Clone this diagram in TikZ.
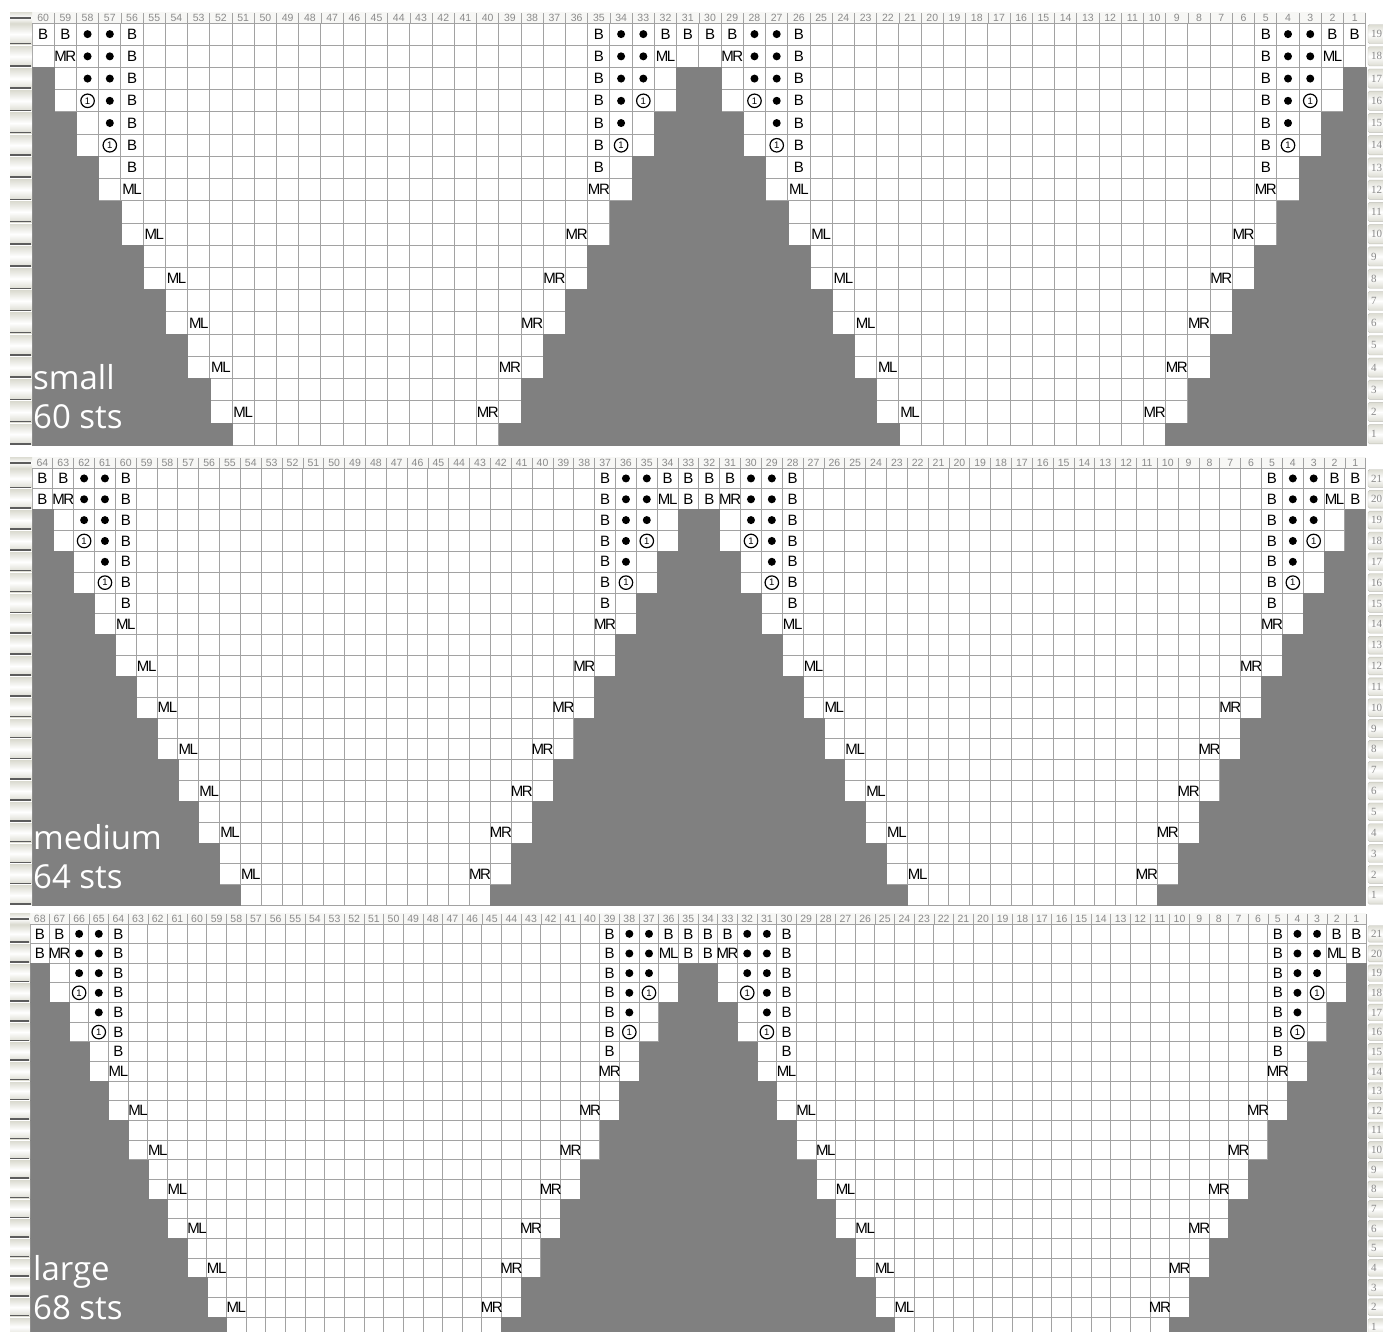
\documentclass[tikz,border=0pt]{standalone}
\usepackage{fontspec}
\setmainfont{Liberation Sans}
\newfontfamily\sizefont{Open Sans}
\newfontfamily\rowfont{Liberation Serif}
\usetikzlibrary{calc}

\definecolor{chartgrey}{HTML}{808080}
\definecolor{gridgrey}{HTML}{A2A2A2}
\definecolor{numgrey}{HTML}{8A8A8A}
\definecolor{tabedge}{HTML}{DCDCD2}
\definecolor{tabline}{HTML}{5C5C5C}
\definecolor{headbg}{HTML}{F7F7F5}

% increase symbols, letters set tight
\newcommand\incML{M\kern-1.4pt L}
\newcommand\incMR{M\kern-1.4pt R}

\tikzset{
  gridline/.style={draw=gridgrey,line width=1pt},
  headsep/.style={draw=gridgrey,line width=0.8pt},
  greycell/.style={fill=chartgrey,draw=chartgrey,line width=0.6pt},
  stsym/.style={inner sep=0pt,font=\fontsize{15}{15}\selectfont},
  bobble/.style={circle,fill=black,inner sep=0pt,minimum size=8pt},
  ringone/.style={circle,draw=black,line width=1.2pt,inner sep=0pt,minimum size=13.5pt,font=\fontsize{9.5}{9.5}\selectfont},
  colnum/.style={inner sep=0pt,text=numgrey,font=\fontsize{10.5}{10.5}\selectfont},
  rownum/.style={inner sep=0pt,text=numgrey,font=\rowfont\fontsize{11}{11}\selectfont},
  sizelabel/.style={inner sep=0pt,text=white,font=\sizefont\fontsize{33}{33}\selectfont},
  tabface/.style={top color=tabedge,bottom color=tabedge,middle color=white},
  % cell centre: row #1 from the top, offset #2 from the current edge
  cell/.style 2 args={at={({\xo+(\pp+(\dir)*(#2)+0.5)*\cw},{\yo+(#1+0.5)*\cw})}}
}

\begin{document}
\begin{tikzpicture}[x=1pt,y=-1pt]
\useasboundingbox (0,0) rectangle (1383,1331);
% three sizes: grid left, grid top, cell, half width, rows, name, stitches
\foreach \xo/\yo/\cw/\hw/\nr/\nm/\st in {32/23/22.23/30/19/small/60,32/468/20.84/32/21/medium/64,30/924/19.65/34/21/large/68}{
  \pgfmathtruncatemacro\nc{2*\hw}
  \pgfmathtruncatemacro\nrm{\nr-1}
  \pgfmathtruncatemacro\tl{\nr-2}
  \pgfmathsetmacro\yb{\yo+\nr*\cw}
  \pgfmathsetmacro\xr{\xo+\nc*\cw}
  % column numbers
  \fill[headbg] (\xo,\yo-11) rectangle (\xr,\yo);
  \foreach \i in {1,...,\nc}{
    \pgfmathtruncatemacro\cn{\nc+1-\i}
    \node[colnum] (col-\nm-\cn) at ({\xo+(\i-0.5)*\cw},\yo-5) {\cn};
    \draw[headsep] ({\xo+\i*\cw},\yo-10) -- ({\xo+\i*\cw},\yo);
  }
  \shade[tabface] (10,\yo-11) rectangle (\xo,\yo);
  \draw[tabline,line width=1.2pt] (10,\yo-5) -- (\xo-1,\yo-5);
  % grid
  \foreach \i in {0,...,\nc} \draw[gridline] ({\xo+\i*\cw},\yo) -- ({\xo+\i*\cw},\yb);
  \foreach \i in {0,...,\nr} \draw[gridline] (\xo,{\yo+\i*\cw}) -- (\xr,{\yo+\i*\cw});
  % four edges: start column, direction, top and lower increases
  \foreach \pe/\dir/\mtop/\mbot in {0/1/MR/ML,\hw-1/-1/ML/MR,\hw/1/MR/ML,2*\hw-1/-1/ML/MR}{
    \pgfmathtruncatemacro\pp{\pe}
    \pgfmathsetmacro\xa{\xo+(\pp+(1-(\dir))/2)*\cw}
    \foreach \rr in {2,...,\nrm}{
      \pgfmathtruncatemacro\g{floor(\rr/2)}
      \fill[greycell] (\xa,{\yo+\rr*\cw}) rectangle ({\xa+(\dir)*\g*\cw},{\yo+(\rr+1)*\cw});
    }
    \foreach \rr in {0,...,6} \node[stsym,cell={\rr}{4}] {B};
    \node[stsym,cell={0}{0}] {B};
    \node[stsym,cell={0}{1}] {B};
    \ifnum\nr=21 \node[stsym,cell={1}{0}] {B};\fi
    \node[stsym,cell={1}{1}] {\csname inc\mtop\endcsname};
    \foreach \rr in {0,1,2} \node[bobble,cell={\rr}{2}] {};
    \foreach \rr in {0,...,4} \node[bobble,cell={\rr}{3}] {};
    \node[ringone,cell={3}{2}] {1};
    \node[ringone,cell={5}{3}] {1};
    \foreach \rr in {7,9,...,\tl}{
      \pgfmathtruncatemacro\oo{(\rr+1)/2}
      \node[stsym,cell={\rr}{\oo}] {\csname inc\mbot\endcsname};
    }
  }
  % row tabs, left plain and right numbered
  \foreach \rr in {0,...,\nrm}{
    \pgfmathtruncatemacro\rn{\nr-\rr}
    \pgfmathsetmacro\yt{\yo+\rr*\cw}
    \shade[tabface] (10,\yt+1) rectangle (\xo,\yt+\cw-1);
    \draw[tabline,line width=1.5pt] (10,\yt+\cw-1.5) -- (\xo-1,\yt+\cw-1.5);
    \shade[tabface,rounded corners=1.5pt] (1368,\yt+1.5) rectangle (1390,\yt+\cw-1.5);
    \draw[tabedge!70!gray,rounded corners=1.5pt] (1368,\yt+1.5) rectangle (1390,\yt+\cw-1.5);
    \node[rownum,anchor=west] (row-\nm-\rn) at (1371,\yt+\cw/2) {\rn};
  }
  \node[sizelabel,anchor=base west] (name-\nm) at (33,\yb-56) {\nm};
  \node[sizelabel,anchor=base west] (sts-\nm) at (33,\yb-17) {\st{} sts};
}
\end{tikzpicture}
\end{document}
